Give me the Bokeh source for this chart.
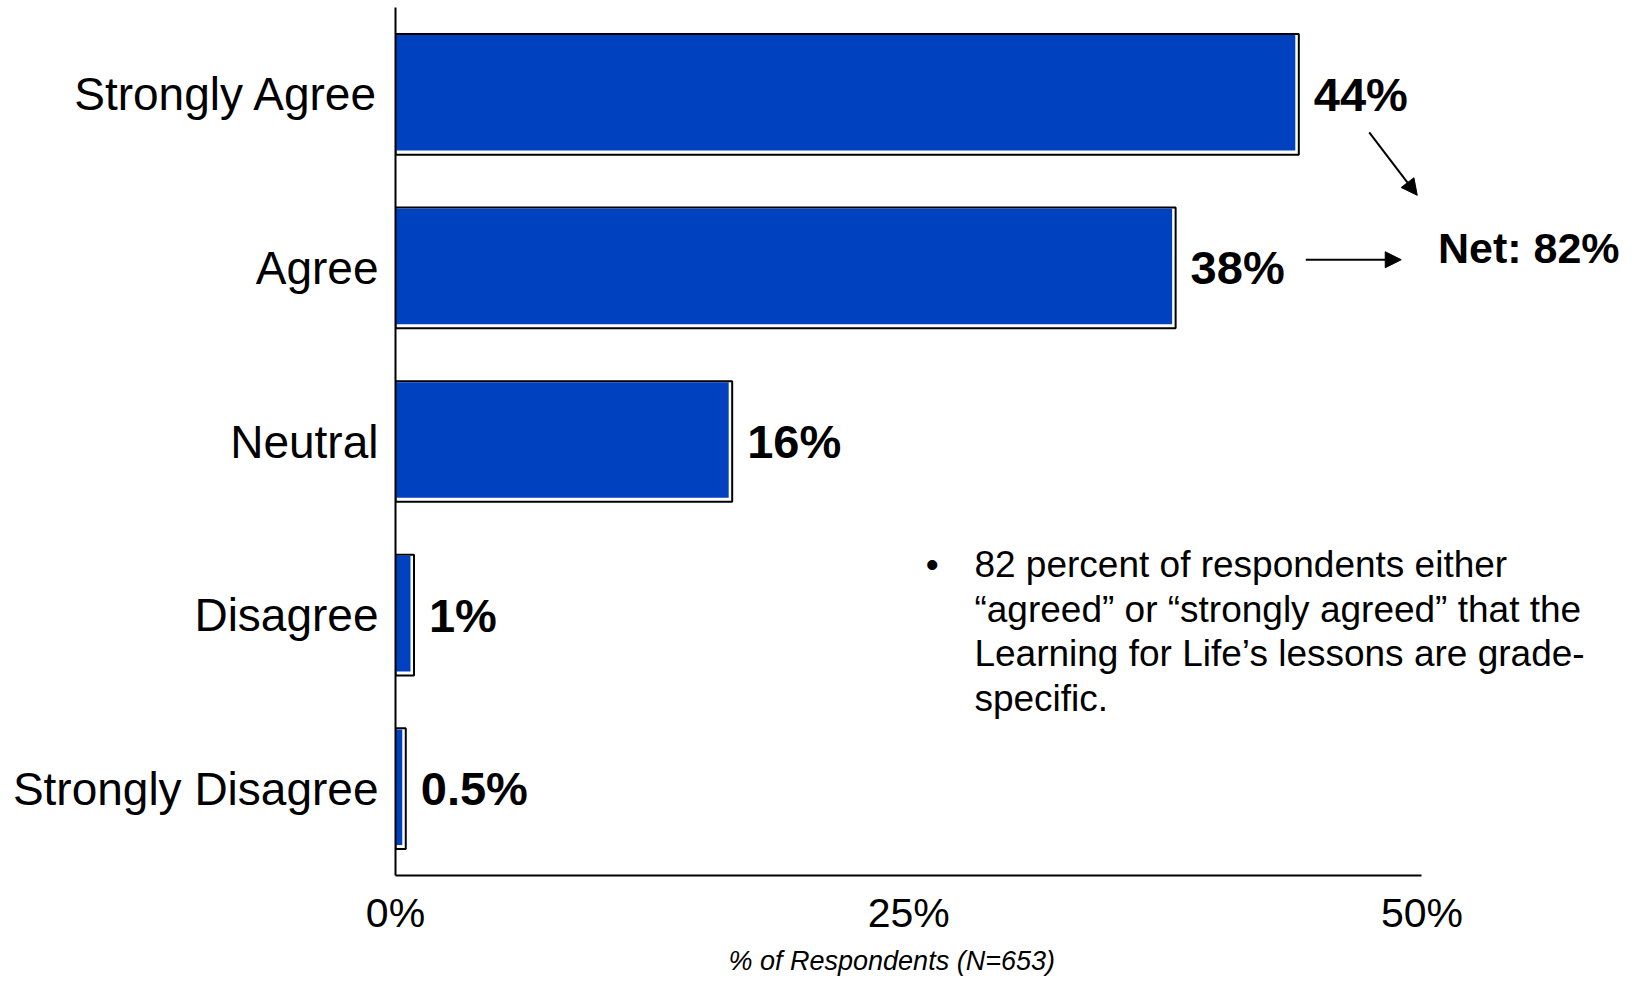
from bokeh.plotting import figure
from bokeh.models import (ColumnDataSource, LabelSet, Label, Arrow, NormalHead,
                          FactorRange, Range1d, FixedTicker, Title)
from bokeh.transform import dodge
from bokeh.core.properties import value
from bokeh.embed import file_html
from bokeh.resources import INLINE

categories = ["Strongly Agree", "Agree", "Neutral", "Disagree", "Strongly Disagree"]
values = [44.0, 38.0, 16.4, 0.9, 0.5]
value_labels = ["44%", "38%", "16%", "1%", "0.5%"]
x_ticks = [0, 25, 50]
x_tick_labels = ["0%", "25%", "50%"]
net_text = "Net: 82%"
axis_title = "% of Respondents (N=653)"
note_lines = [
    "82 percent of respondents either",
    "\u201cagreed\u201d or \u201cstrongly agreed\u201d that the",
    "Learning for Life\u2019s lessons are grade-",
    "specific.",
]

FONT = "Liberation Sans"
BLUE = "#0041C0"

src = ColumnDataSource(dict(cat=categories, val=values, lab=value_labels))

p = figure(width=1620, height=980,
           y_range=FactorRange(factors=categories[::-1]),
           x_range=Range1d(0, 59.67),
           output_backend="svg", toolbar_location=None,
           min_border_left=395, min_border_right=0,
           min_border_top=7, min_border_bottom=101)
p.outline_line_color = None
p.xgrid.visible = False
p.ygrid.visible = False
p.background_fill_color = "white"

# outer bar (black outline, white fill)
p.hbar(y="cat", left=0, right="val", height=0.695, source=src,
       fill_color="white", line_color="black", line_width=2)
# inner blue fill, inset at right and bottom
p.hbar(y=dodge("cat", 0.0087, range=p.y_range), left=0,
       right=dodge("val", -0.17), height=0.666, source=src,
       fill_color=BLUE, line_color=None)

labels = LabelSet(x="val", y="cat", text="lab", source=src, x_offset=15,
                  text_baseline="middle", text_font=value(FONT),
                  text_font_style="bold", text_font_size="47px",
                  text_color="black")
p.add_layout(labels)

# axes
p.xaxis.ticker = FixedTicker(ticks=x_ticks)
p.xaxis.bounds = (0, 50)
p.xaxis.major_label_overrides = {t: l for t, l in zip(x_ticks, x_tick_labels)}
p.xaxis.major_label_text_font = FONT
p.xaxis.major_label_text_font_size = "41px"
p.xaxis.major_label_text_color = "black"
p.xaxis.major_label_standoff = 8
p.xaxis.major_tick_line_color = None
p.xaxis.minor_tick_line_color = None
p.xaxis.axis_line_color = "black"
p.xaxis.axis_line_width = 2

p.yaxis.major_label_text_font = FONT
p.yaxis.major_label_text_font_size = "46px"
p.yaxis.major_label_text_color = "black"
p.yaxis.major_label_standoff = 11
p.yaxis.major_tick_line_color = None
p.yaxis.minor_tick_line_color = None
p.yaxis.axis_line_color = "black"
p.yaxis.axis_line_width = 2

# arrows and net label
p.add_layout(Arrow(end=NormalHead(size=16, fill_color="black", line_color="black"),
                   x_start=47.43, y_start=4.281, x_end=49.77, y_end=3.918,
                   line_color="black", line_width=2))
p.add_layout(Arrow(end=NormalHead(size=16, fill_color="black", line_color="black"),
                   x_start=44.34, y_start=3.547, x_end=48.99, y_end=3.547,
                   line_color="black", line_width=2))
p.add_layout(Label(x=50.78, y=3.614, text=net_text, text_font=FONT,
                   text_font_style="bold", text_font_size="43px",
                   text_baseline="middle", text_color="black"))

# note text
p.add_layout(Label(x=26.15, y=1.91, text="\u2022", text_font=FONT,
                   text_font_size="37px", text_align="center",
                   text_baseline="top", text_color="black"))
p.add_layout(Label(x=28.2, y=1.91, text="\n".join(note_lines), text_font=FONT,
                   text_font_size="37px", text_line_height=1.09,
                   text_baseline="top", text_color="black"))

# axis title
p.add_layout(Title(text=axis_title, align="left", offset=328, padding=5, standoff=0,
                   text_font=FONT, text_font_style="italic",
                   text_font_size="27px", text_color="black"), "below")

open("out.html", "w").write(file_html(p, INLINE))
